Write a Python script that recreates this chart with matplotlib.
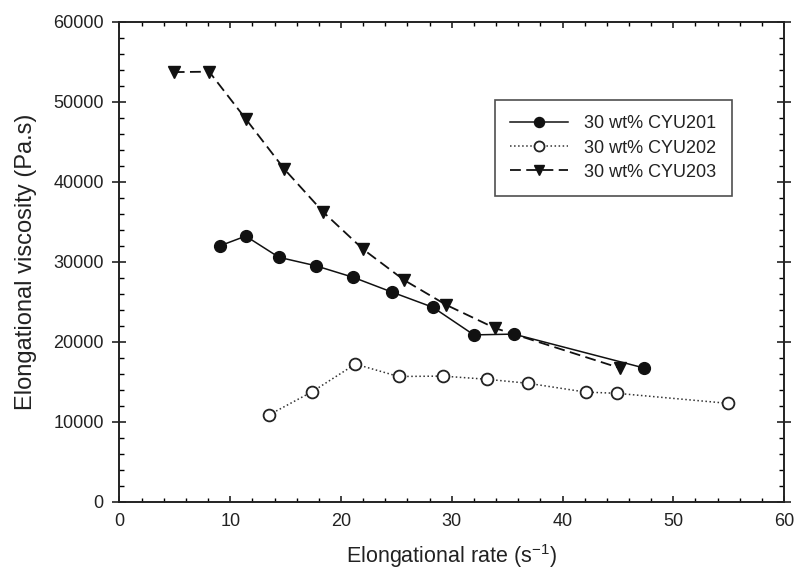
import numpy as np
import matplotlib
matplotlib.use('Agg')
from matplotlib import pyplot as plt
from matplotlib.ticker import MultipleLocator

plt.rcParams['font.family'] = ['Liberation Sans', 'DejaVu Sans']

# 30 wt% CYU201
x201 = [9.1, 11.4, 14.4, 17.7, 21.1, 24.6, 28.3, 32.0, 35.6, 47.4]
y201 = [32000, 33200, 30550, 29500, 28050, 26200, 24300, 20850, 20950, 16700]

# 30 wt% CYU202
x202 = [13.5, 17.4, 21.3, 25.2, 29.2, 33.2, 36.9, 42.1, 44.9, 54.9]
y202 = [10850, 13750, 17200, 15650, 15700, 15300, 14800, 13700, 13550, 12300]

# 30 wt% CYU203
x203 = [4.9, 8.1, 11.4, 14.9, 18.4, 22.0, 25.7, 29.5, 33.9, 45.2]
y203 = [53700, 53750, 47850, 41550, 36200, 31550, 27700, 24600, 21700, 16700]

fig = plt.figure(figsize=(7.98, 5.8), dpi=100)
ax = fig.add_axes([0.1497, 0.135, 0.8328, 0.8276])

ax.plot(x201, y201, '-', color='#111111', lw=1.1, marker='o', ms=8.5,
        mfc='#111111', mec='#111111', label='30 wt% CYU201')
ax.plot(x202, y202, ':', color='#333333', lw=1.1, marker='o', ms=8.5,
        mfc='white', mec='#222222', mew=1.3, label='30 wt% CYU202')
ax.plot(x203, y203, '--', color='#111111', lw=1.3, dashes=(6, 3), marker='v',
        ms=9, mfc='#111111', mec='#111111', label='30 wt% CYU203')

ax.set_xlim(0, 60)
ax.set_ylim(0, 60000)
ax.xaxis.set_major_locator(MultipleLocator(10))
ax.xaxis.set_minor_locator(MultipleLocator(2))
ax.yaxis.set_major_locator(MultipleLocator(10000))
ax.yaxis.set_minor_locator(MultipleLocator(2000))

for s in ax.spines.values():
    s.set_linewidth(1.4)
    s.set_color('#222222')

ax.tick_params(axis='x', which='major', direction='in', length=4.5, width=1.2,
               top=True, bottom=True, labelsize=13, pad=8, colors='#222222')
ax.tick_params(axis='x', which='minor', direction='in', length=3, width=1.0,
               top=True, bottom=True)
ax.tick_params(axis='y', which='major', direction='inout', length=9.5, width=1.2,
               left=True, right=True, labelsize=13, pad=6.5, colors='#222222')
ax.tick_params(axis='y', which='minor', direction='in', length=3.5, width=1.0,
               left=True, right=True)

ax.set_xlabel('Elongational rate (s$^{\\mathregular{-1}}$)', fontsize=15.5,
              labelpad=9, color='#222222')
ax.set_ylabel('Elongational viscosity (Pa.s)', fontsize=17, labelpad=12,
              color='#222222')

leg = ax.legend(loc='upper left', bbox_to_anchor=(0.565, 0.837), fontsize=13,
                frameon=True, fancybox=False, edgecolor='#222222',
                handlelength=3.2, borderpad=0.85, labelspacing=0.4,
                handletextpad=0.9, borderaxespad=0, markerscale=0.85)
leg.get_frame().set_linewidth(1.2)
for t in leg.get_texts():
    t.set_color('#222222')

fig.savefig('out.png', dpi=100)
